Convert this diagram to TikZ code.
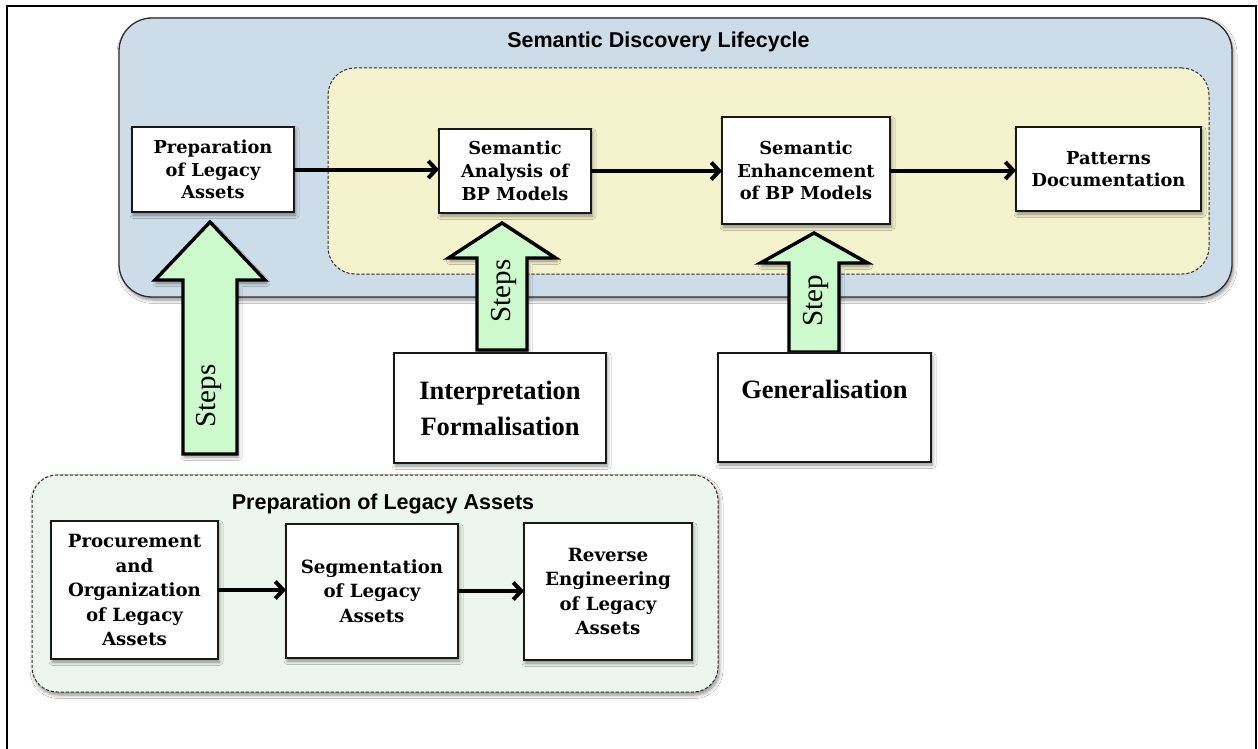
\documentclass[tikz,border=0pt]{standalone}
\usepackage{fontspec}
\setmainfont{DejaVu Serif}
\newfontfamily\headfont{Liberation Sans}
\newfontfamily\timesfont{Liberation Serif}
\usetikzlibrary{arrows.meta,shadows.blur,calc}

\definecolor{lifeblue}{HTML}{CCDDE9}
\definecolor{coreyellow}{HTML}{F5F3CD}
\definecolor{prepgreen}{HTML}{ECF6EE}
\definecolor{arrowgreen}{HTML}{CCFACC}
\definecolor{edgegray}{HTML}{2E2E2E}

% upward block arrow: centre x, tip y, head base y, bottom y, head half width, shaft half width
\newcommand{\upblock}[6]{%
  \draw[blockarrow] (#1,#2) -- (#1+#5,#3) -- (#1+#6,#3) -- (#1+#6,#4)
    -- (#1-#6,#4) -- (#1-#6,#3) -- (#1-#5,#3) -- cycle;}

\tikzset{
  softshadow/.style={blur shadow={shadow xshift=1.5pt, shadow yshift=-3pt,
      shadow blur radius=3.5pt, shadow blur steps=6, shadow opacity=45}},
  container/.style={draw=edgegray, line width=1.3pt, inner sep=0pt, outer sep=0pt},
  dashbox/.style={draw=edgegray, line width=1pt, dash pattern=on 3.2pt off 1.8pt,
      inner sep=0pt, outer sep=0pt},
  stepbox/.style={draw=black!90, line width=1.3pt, fill=white, inner sep=0pt,
      outer sep=0pt, align=center, softshadow,
      font=\bfseries\fontsize{17.8}{22.7}\selectfont},
  lowbox/.style={stepbox, font=\bfseries\fontsize{18.2}{24.5}\selectfont},
  sourcebox/.style={draw=black!90, line width=1.3pt, fill=white, inner sep=0pt,
      outer sep=0pt, softshadow},
  bigtext/.style={inner sep=0pt, align=center,
      font=\timesfont\bfseries\fontsize{26.5}{36}\selectfont},
  steplabel/.style={inner sep=0pt, rotate=90, font=\timesfont\fontsize{29}{30}\selectfont},
  heading/.style={inner sep=0pt, font=\headfont\bfseries\fontsize{21.5}{24}\selectfont},
  blockarrow/.style={fill=arrowgreen, draw=black, line width=3.4pt, line join=miter,
      softshadow},
  flow/.style={line width=4pt, -{Straight Barb[length=8pt, width=17pt]}}
}

\begin{document}
\begin{tikzpicture}[x=1pt, y=-1pt]
  \useasboundingbox (0,0) rectangle (1258,749);
  \fill[white] (0,0) rectangle (1258,749);

  % page frame (open at the bottom)
  \draw[line width=2pt] (7,749) -- (7,6) -- (1255.5,6) -- (1255.5,749);

  % Semantic Discovery Lifecycle container
  \node[container, fill=lifeblue, rounded corners=33pt, minimum width=1113pt,
        minimum height=279pt, softshadow] (sdl) at (675.5,157.5) {};
  \node[heading, anchor=base] (sdltitle) at (658.5,48) {Semantic Discovery Lifecycle};

  % inner dashed area
  \node[dashbox, fill=coreyellow, rounded corners=27pt, minimum width=881pt,
        minimum height=206pt] (core) at (768.5,171) {};

  % block arrows
  \upblock{210}{222}{280}{454}{55}{27}
  \upblock{502}{223}{258}{350}{53.5}{25}
  \upblock{814}{233}{263}{352}{53.5}{25}
  \node[steplabel] (s1) at (209,396) {Steps};
  \node[steplabel] (s2) at (504,291) {Steps};
  \node[steplabel] (s3) at (816,301) {Step};

  % lifecycle steps
  \node[stepbox, minimum width=162pt, minimum height=85pt] (prep) at (213,169.5)
       {Preparation\\of Legacy\\Assets};
  \node[stepbox, minimum width=152pt, minimum height=84pt] (ana) at (515,171)
       {Semantic\\Analysis of\\BP Models};
  \node[stepbox, minimum width=168pt, minimum height=107pt] (enh) at (806,170.5)
       {Semantic\\Enhancement\\of BP Models};
  \node[stepbox, minimum width=185pt, minimum height=84pt] (pat) at (1108.5,169)
       {Patterns\\Documentation};

  \draw[flow] (prep.east) -- (prep.east -| ana.west);
  \draw[flow] (ana.east) -- (ana.east -| enh.west);
  \draw[flow] (enh.east) -- (enh.east -| pat.west);

  % activity boxes feeding the steps
  \node[sourcebox, minimum width=212pt, minimum height=110pt] (interp) at (500,408) {};
  \node[bigtext] (interptxt) at (interp) {Interpretation\\Formalisation};

  \node[sourcebox, minimum width=213pt, minimum height=109pt] (gen) at (824.5,407.5) {};
  \node[bigtext, anchor=base] (gentxt) at (824.5,398) {Generalisation};

  % Preparation of Legacy Assets container
  \node[dashbox, fill=prepgreen, rounded corners=25pt, minimum width=686pt,
        minimum height=217pt, softshadow] (legacy) at (375,583.5) {};
  \node[heading, anchor=base] (legacytitle) at (383,509) {Preparation of Legacy Assets};

  \node[lowbox, minimum width=167pt, minimum height=138pt] (proc) at (134.5,590)
       {Procurement\\and\\Organization\\of Legacy\\Assets};
  \node[lowbox, minimum width=172pt, minimum height=134pt] (seg) at (372,591)
       {Segmentation\\of Legacy\\Assets};
  \node[lowbox, minimum width=168pt, minimum height=137pt] (rev) at (608,591.5)
       {Reverse\\Engineering\\of Legacy\\Assets};

  \draw[flow] (proc.east) -- (proc.east -| seg.west);
  \draw[flow] (seg.east) -- (seg.east -| rev.west);
\end{tikzpicture}
\end{document}
